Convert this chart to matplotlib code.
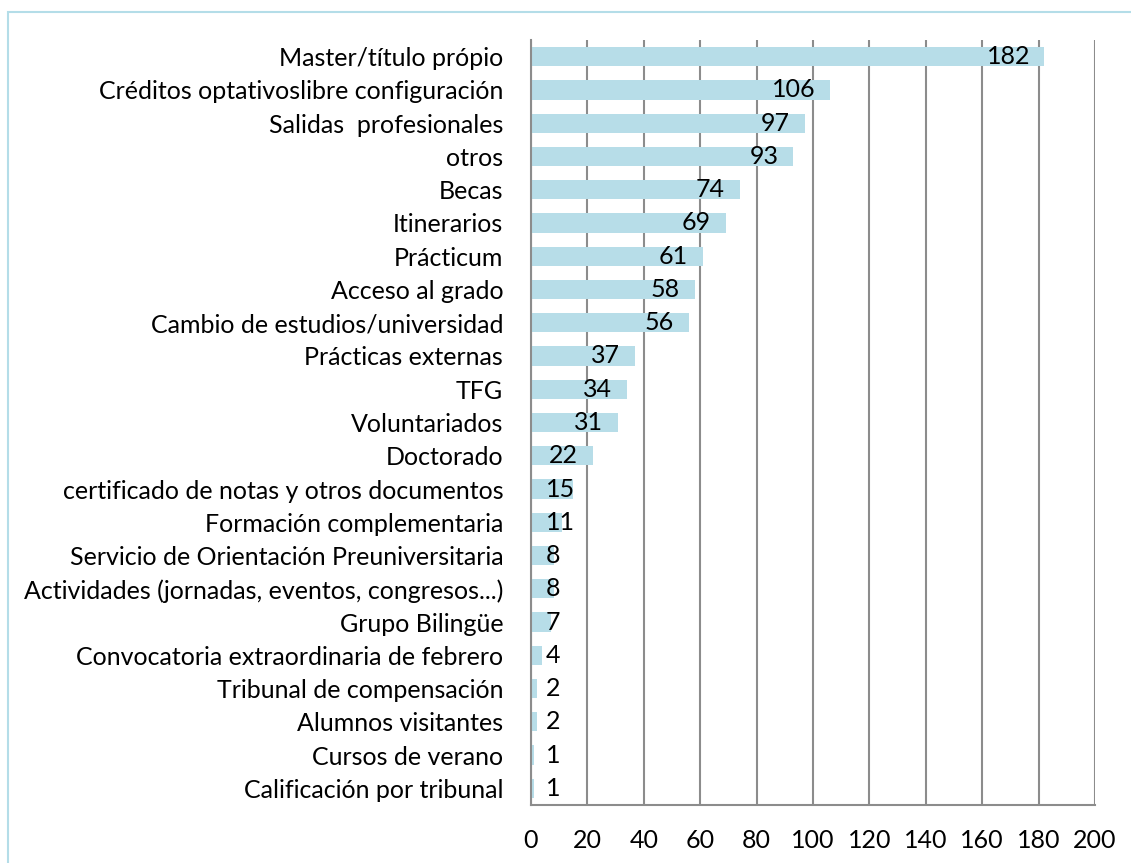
import matplotlib
matplotlib.use("Agg")
import matplotlib.pyplot as plt
from matplotlib.patches import Rectangle

categories = [
    "Master/título própio",
    "Créditos optativoslibre configuración",
    "Salidas  profesionales",
    "otros",
    "Becas",
    "Itinerarios",
    "Prácticum",
    "Acceso al grado",
    "Cambio de estudios/universidad",
    "Prácticas externas",
    "TFG",
    "Voluntariados",
    "Doctorado",
    "certificado de notas y otros documentos",
    "Formación complementaria",
    "Servicio de Orientación Preuniversitaria",
    "Actividades (jornadas, eventos, congresos...)",
    "Grupo Bilingüe",
    "Convocatoria extraordinaria de febrero",
    "Tribunal de compensación",
    "Alumnos visitantes",
    "Cursos de verano",
    "Calificación por tribunal",
]
values = [182, 106, 97, 93, 74, 69, 61, 58, 56, 37, 34, 31, 22, 15, 11, 8, 8, 7, 4, 2, 2, 1, 1]
xticks = list(range(0, 201, 20))

plt.rcParams['font.family'] = ['Lato', 'DejaVu Sans']
FS = 18

fig = plt.figure(figsize=(11.31, 8.63), dpi=100)
ax = fig.add_axes([531/1131, 58/863, 564/1131, 765/863])

ypos = list(range(len(categories)))
ax.barh(ypos, values, height=0.58, color='#b7dde8', zorder=2)

ax.set_xlim(0, 200)
ax.set_ylim(len(categories) - 0.5, -0.5)
ax.set_xticks(xticks)
ax.set_yticks(ypos)
ax.set_yticklabels(categories, fontsize=FS)
ax.tick_params(axis='x', labelsize=FS, length=0, pad=17)
ax.tick_params(axis='y', length=0, pad=20)
ax.grid(axis='x', color='#8c8c8c', linewidth=1.5, zorder=1)
for s in ['top', 'right']:
    ax.spines[s].set_visible(False)
for s in ['left', 'bottom']:
    ax.spines[s].set_color('#8c8c8c')
    ax.spines[s].set_linewidth(1.5)

# data labels: inside end, pushed right when the bar is too short
px = 200 / 564.0
for y, v in zip(ypos, values):
    w = 13.5 * len(str(v)) * px
    x = max(v - 17 * px - w, 15 * px)
    ax.text(x, y, str(v), ha='left', va='center', fontsize=FS, color='black', zorder=3)

fig.patches.append(Rectangle((8/1131, -0.1), 1.2, (863-12)/863 + 0.1,
                             transform=fig.transFigure, fill=False,
                             edgecolor='#b4dde8', linewidth=1.5))

fig.savefig("out.png", dpi=100)
